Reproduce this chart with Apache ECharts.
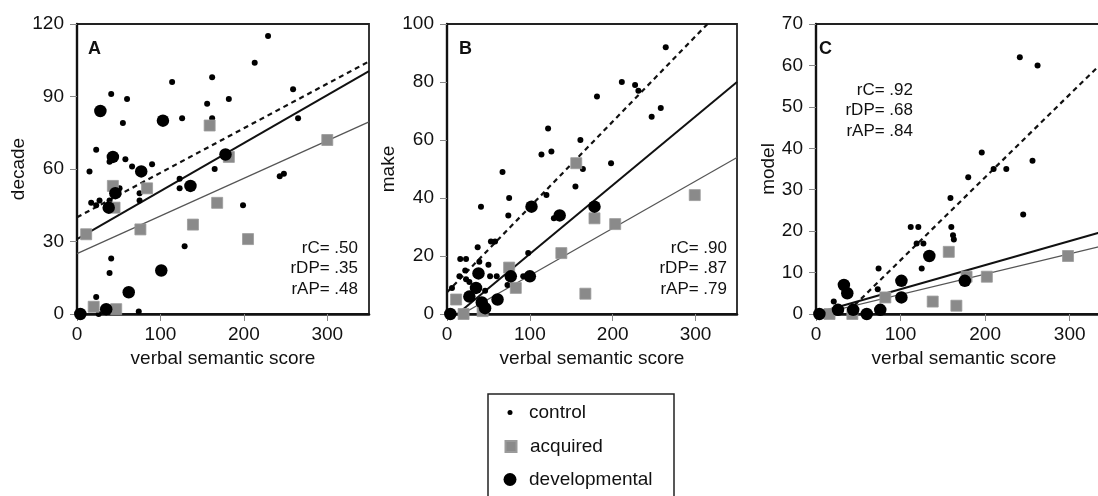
<!DOCTYPE html>
<html>
<head>
<meta charset="utf-8">
<script src="https://cdn.jsdelivr.net/npm/echarts@6/dist/echarts.min.js"></script>
<style>
  html, body { margin: 0; padding: 0; background: #fff; overflow: hidden; }
  #chart { width: 1125px; height: 496px; }
</style>
</head>
<body>
<div id="chart"></div>
<script>
var FONT = '"Liberation Sans", Arial, Helvetica, sans-serif';

// axis setup per panel
var panelNames = ['A', 'B', 'C'];
var yNames = ['decade', 'make', 'model'];
var yMax = [120, 100, 70];
var yStep = [30, 20, 10];
var xTicks = [0, 100, 200, 300];
var corrLabels = [
    ['rC= .50', 'rDP= .35', 'rAP= .48'],
    ['rC= .90', 'rDP= .87', 'rAP= .79'],
    ['rC= .92', 'rDP= .68', 'rAP= .84']
];

// panel A (decade)
var controlA = [[229,115],[213,104],[114,96],[162,98],[41,91],[60,89],[156,87],[182,89],[162,81],[126,81],
    [55,79],[259,93],[265,81],[23,68],[58,64],[39,63],[66,61],[90,62],[15,59],[165,60],[243,57],[248,58],
    [123,56],[123,52],[75,50],[17,46],[27,47],[39,47],[51,52],[75,47],[23,45],[199,45],[129,28],[41,23],
    [39,17],[23,7],[26,0],[74,1]];
var acquiredA = [[11,33],[20,3],[47,2],[43,53],[45,44],[84,52],[76,35],[159,78],[168,46],[139,37],[205,31],[300,72],[182,65]];
var developmentalA = [[4,0],[28,84],[43,65],[46,50],[38,44],[77,59],[103,80],[136,53],[178,66],[101,18],[62,9],[35,2]];

// panel B (make)
var controlB = [[264,92],[211,80],[227,79],[231,77],[258,71],[247,68],[181,75],[122,64],[126,56],[114,55],
    [161,60],[198,52],[164,50],[155,44],[120,41],[67,49],[75,40],[74,34],[41,37],[37,23],[39,18],[50,17],
    [52,13],[58,25],[53,25],[16,19],[23,19],[15,13],[22,15],[27,11],[23,12],[6,9],[60,13],[98,21],[92,13],
    [73,10],[129,33],[46,8]];
var acquiredB = [[11,5],[20,0],[43,1],[75,16],[83,9],[138,21],[156,52],[178,33],[203,31],[167,7],[299,41]];
var developmentalB = [[4,0],[27,6],[35,9],[38,14],[42,4],[46,2],[61,5],[77,13],[100,13],[102,37],[136,34],[178,37]];

// panel C (model)
var controlC = [[241,62],[262,60],[196,39],[256,37],[180,33],[210,35],[225,35],[245,24],[159,28],[160,21],
    [163,18],[112,21],[121,21],[119,17],[127,17],[125,11],[74,11],[73,6],[21,3],[162,19]];
var acquiredC = [[16,0],[43,0],[82,4],[138,3],[166,2],[157,15],[178,9],[202,9],[298,14]];
var developmentalC = [[4,0],[26,1],[33,7],[37,5],[44,1],[60,0],[76,1],[101,4],[101,8],[134,14],[176,8]];

// fitted lines, end points
var fitControl = [[[0,40],[350,104.5]], [[0,7.5],[350,110.5]], [[0,-7],[350,63]]];
var fitDevelopmental = [[[0,31],[350,100.5]], [[0,-3],[350,80]], [[0,0.2],[350,20.5]]];
var fitAcquired = [[[0,25],[350,79.5]], [[0,-3],[350,54]], [[0,-0.2],[350,17]]];

var controlData = [controlA, controlB, controlC];
var acquiredData = [acquiredA, acquiredB, acquiredC];
var developmentalData = [developmentalA, developmentalB, developmentalC];

var gridLeft = [77, 447, 816];
var gridWidth = [292, 290, 296];
var yNameGap = [48, 47, 38];

var grids = [], xAxes = [], yAxes = [], series = [], graphics = [];

for (var i = 0; i < 3; i++) {
    grids.push({
        left: gridLeft[i], top: 24, width: gridWidth[i], height: 290,
        show: true, borderColor: '#222', borderWidth: 1.8, backgroundColor: 'transparent'
    });
    xAxes.push({
        gridIndex: i, type: 'value', min: 0, max: 350, interval: 100,
        name: 'verbal semantic score', nameLocation: 'middle', nameGap: 33,
        nameTextStyle: { fontFamily: FONT, fontSize: 19, color: '#111' },
        axisLine: { onZero: false, lineStyle: { color: '#111', width: 2.6 } },
        axisTick: { length: 7, lineStyle: { color: '#888', width: 1 }, customValues: xTicks },
        axisLabel: { fontFamily: FONT, fontSize: 19, color: '#111', margin: 11, customValues: xTicks },
        splitLine: { show: false }
    });
    yAxes.push({
        gridIndex: i, type: 'value', min: 0, max: yMax[i], interval: yStep[i],
        name: yNames[i], nameLocation: 'middle', nameGap: yNameGap[i],
        nameTextStyle: { fontFamily: FONT, fontSize: 19, color: '#111' },
        axisLine: { onZero: false, lineStyle: { color: '#111', width: 2.4 } },
        axisTick: { length: 7, lineStyle: { color: '#888', width: 1 } },
        axisLabel: { fontFamily: FONT, fontSize: 19, color: '#111', margin: 13 },
        splitLine: { show: false }
    });

    series.push({
        name: 'control fit', type: 'line', xAxisIndex: i, yAxisIndex: i,
        data: fitControl[i], symbol: 'none', clip: true, z: 2, silent: true,
        lineStyle: { color: '#111', width: 2.2, type: [5, 4] }
    });
    series.push({
        name: 'developmental fit', type: 'line', xAxisIndex: i, yAxisIndex: i,
        data: fitDevelopmental[i], symbol: 'none', clip: true, z: 2, silent: true,
        lineStyle: { color: '#111', width: 2 }
    });
    series.push({
        name: 'acquired fit', type: 'line', xAxisIndex: i, yAxisIndex: i,
        data: fitAcquired[i], symbol: 'none', clip: true, z: 2, silent: true,
        lineStyle: { color: '#555', width: 1.2 }
    });
    series.push({
        name: 'control', type: 'scatter', xAxisIndex: i, yAxisIndex: i,
        data: controlData[i], symbol: 'circle', symbolSize: 6, clip: false, z: 3,
        itemStyle: { color: '#000', opacity: 1 }
    });
    series.push({
        name: 'acquired', type: 'scatter', xAxisIndex: i, yAxisIndex: i,
        data: acquiredData[i], symbol: 'rect', symbolSize: 11, clip: false, z: 4,
        itemStyle: { color: '#8a8a8a', borderColor: '#9a9a9a', borderWidth: 0.8, opacity: 1 }
    });
    series.push({
        name: 'developmental', type: 'scatter', xAxisIndex: i, yAxisIndex: i,
        data: developmentalData[i], symbol: 'circle', symbolSize: 12.5, clip: false, z: 5,
        itemStyle: { color: '#000', opacity: 1 }
    });
}

// panel letters and r values
var letterX = [88, 459, 819];
for (var k = 0; k < 3; k++) {
    graphics.push({
        type: 'text', left: letterX[k], top: 40, z: 10,
        style: { text: panelNames[k], font: 'bold 18px ' + FONT, fill: '#111' }
    });
}
var corrRight = [358, 727, 913];
var corrTop = [238, 238, 80];
for (var m = 0; m < 3; m++) {
    graphics.push({
        type: 'text', z: 10,
        x: corrRight[m], y: corrTop[m],
        style: {
            text: corrLabels[m].join('\n'), font: '17px ' + FONT, fill: '#111',
            align: 'right', lineHeight: 20.5
        }
    });
}
// legend frame
graphics.push({
    type: 'rect', z: 1, shape: { x: 488, y: 394, width: 186, height: 130 },
    style: { fill: 'none', stroke: '#222', lineWidth: 1.5 }
});

var legendTextStyle = function (pad) {
    return { fontFamily: FONT, fontSize: 19, color: '#111', padding: [0, 0, 0, pad] };
};

var myChart = echarts.init(document.getElementById('chart'));
myChart.setOption({
    animation: false,
    grid: grids,
    xAxis: xAxes,
    yAxis: yAxes,
    legend: [
        { data: ['control'], left: 510 - 2.5, top: 403, padding: 0, itemWidth: 5, itemHeight: 5,
          icon: 'circle', selectedMode: false, textStyle: legendTextStyle(11.5) },
        { data: ['acquired'], left: 510 - 5.5, top: 437, padding: 0, itemWidth: 11, itemHeight: 11,
          icon: 'rect', selectedMode: false, textStyle: legendTextStyle(8.5) },
        { data: ['developmental'], left: 510 - 6.5, top: 470, padding: 0, itemWidth: 13, itemHeight: 13,
          icon: 'circle', selectedMode: false, textStyle: legendTextStyle(7.5) }
    ],
    graphic: graphics,
    series: series
});
</script>
</body>
</html>
